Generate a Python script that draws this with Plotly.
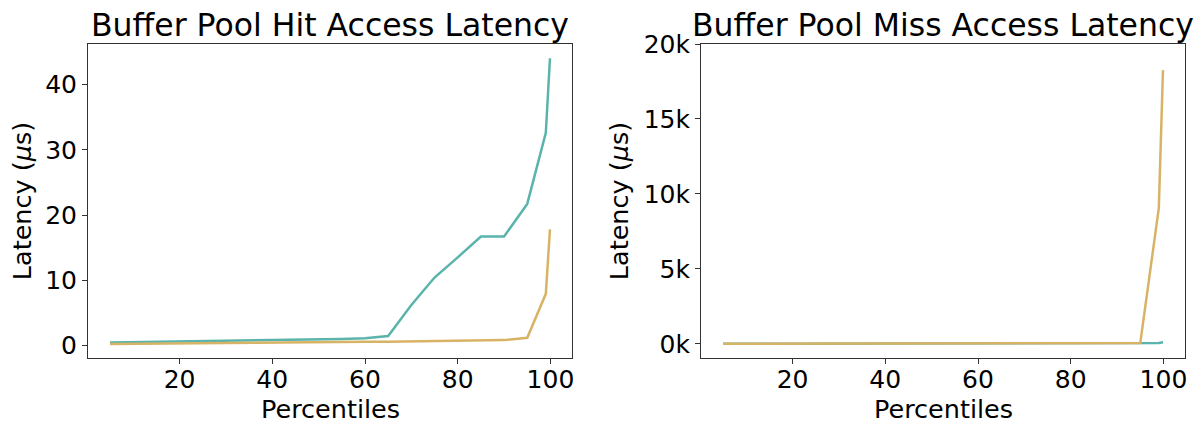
import plotly.graph_objects as go

W, H = 1193, 424

percentiles = [5, 10, 15, 20, 25, 30, 35, 40, 45, 50, 55, 60, 65, 70, 75, 80, 85, 90, 95, 99, 99.9]

hit_teal = [0.45, 0.5, 0.55, 0.6, 0.65, 0.7, 0.74, 0.78, 0.83, 0.9, 0.98, 1.1, 1.43,
            6.2, 10.4, 13.5, 16.7, 16.7, 21.7, 32.6, 44.05]
hit_orange = [0.2, 0.24, 0.28, 0.32, 0.35, 0.38, 0.41, 0.44, 0.47, 0.5, 0.52, 0.54, 0.56,
              0.6, 0.64, 0.68, 0.72, 0.8, 1.17, 7.9, 17.8]

miss_teal = [12, 13, 14, 15, 16, 17, 18, 19, 20, 21, 22, 23, 24,
             25, 27, 29, 31, 35, 45, 70, 110]
miss_orange = [15, 16, 17, 18, 19, 20, 21, 22, 23, 24, 25, 26, 27,
               28, 30, 32, 35, 40, 60, 9060, 18260]

hit_yticks = [0, 10, 20, 30, 40]
miss_yticks = [0, 5000, 10000, 15000, 20000]
miss_yticklabels = ["0k", "5k", "10k", "15k", "20k"]
x_ticks = [20, 40, 60, 80, 100]

titles = ["Buffer Pool Hit Access Latency", "Buffer Pool Miss Access Latency"]
x_title = "Percentiles"
y_title = "Latency (<i>μ</i>s)"

TEAL = "#5ab4ac"
ORANGE = "#d8b365"
FONT = "DejaVu Sans"

# pixel geometry of the two frames
L1, R1 = 88, 572
L2, R2 = 701, 1185
TOP, BOT = 44, 358.3

def px(x):
    return x / W

def py(y):
    return (H - y) / H

fig = go.Figure()
lw = 2.5
fig.add_trace(go.Scatter(x=percentiles, y=hit_teal, mode="lines", line=dict(color=TEAL, width=lw),
                         xaxis="x", yaxis="y", showlegend=False))
fig.add_trace(go.Scatter(x=percentiles, y=hit_orange, mode="lines", line=dict(color=ORANGE, width=lw),
                         xaxis="x", yaxis="y", showlegend=False))
fig.add_trace(go.Scatter(x=percentiles, y=miss_teal, mode="lines", line=dict(color=TEAL, width=lw),
                         xaxis="x2", yaxis="y2", showlegend=False))
fig.add_trace(go.Scatter(x=percentiles, y=miss_orange, mode="lines", line=dict(color=ORANGE, width=lw),
                         xaxis="x2", yaxis="y2", showlegend=False))

axis_common = dict(showgrid=False, zeroline=False, showline=True, mirror=True,
                   linecolor="#333333", linewidth=1, ticks="outside", ticklen=5,
                   tickwidth=1, tickcolor="#333333",
                   tickfont=dict(family=FONT, size=25, color="#000000"),
                   automargin=False)

xr = [0.25, 104.65]
fig.update_layout(
    width=W, height=H,
    margin=dict(l=0, r=0, t=0, b=0),
    paper_bgcolor="white", plot_bgcolor="white",
    xaxis=dict(domain=[px(L1), px(R1)], range=xr, tickvals=x_ticks, anchor="y",
               ticklabelstandoff=-6, **axis_common),
    yaxis=dict(domain=[py(BOT), py(TOP)], range=[-1.99, 46.24], tickvals=hit_yticks, anchor="x", **axis_common),
    xaxis2=dict(domain=[px(L2), px(R2)], range=xr, tickvals=x_ticks, anchor="y2",
                ticklabelstandoff=-6, **axis_common),
    yaxis2=dict(domain=[py(BOT), py(TOP)], range=[-955, 20000], tickvals=miss_yticks,
                ticktext=miss_yticklabels, anchor="x2", **axis_common),
)

ann = []
for (l, r), t in zip([(L1, R1), (L2, R2)], titles):
    cx = (l + r) / 2
    ann.append(dict(text=t, x=px(cx), y=py(25), xref="paper", yref="paper",
                    xanchor="center", yanchor="middle", showarrow=False,
                    font=dict(family=FONT, size=31.5, color="#000000")))
    ann.append(dict(text=x_title, x=px(cx), y=py(409), xref="paper", yref="paper",
                    xanchor="center", yanchor="middle", showarrow=False,
                    font=dict(family=FONT, size=25.5, color="#000000")))
for cx in [22, 619]:
    ann.append(dict(text=y_title, x=px(cx), y=py((TOP + BOT) / 2), xref="paper", yref="paper",
                    xanchor="center", yanchor="middle", showarrow=False, textangle=-90,
                    font=dict(family=FONT, size=25.5, color="#000000")))
fig.update_layout(annotations=ann)

fig.write_html("out.html")
